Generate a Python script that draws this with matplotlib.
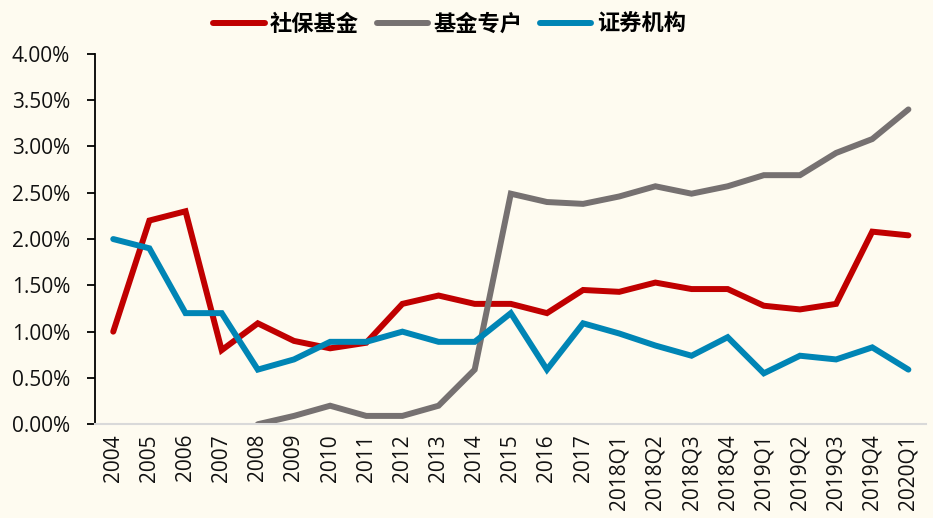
import numpy as np
import matplotlib
matplotlib.use("Agg")
import matplotlib.pyplot as plt
from matplotlib.ticker import FuncFormatter

plt.rcParams['font.family'] = ['Open Sans', 'Noto Sans CJK SC', 'DejaVu Sans']

# 数据（单位：%）
periods = ['2004', '2005', '2006', '2007', '2008', '2009', '2010', '2011',
           '2012', '2013', '2014', '2015', '2016', '2017',
           '2018Q1', '2018Q2', '2018Q3', '2018Q4',
           '2019Q1', '2019Q2', '2019Q3', '2019Q4', '2020Q1']

shebao = [1.00, 2.20, 2.30, 0.80, 1.09, 0.90, 0.82, 0.88, 1.30, 1.39, 1.30,
          1.30, 1.20, 1.45, 1.43, 1.53, 1.46, 1.46, 1.28, 1.24, 1.30, 2.08, 2.04]
jijin_zhuanhu = [np.nan, np.nan, np.nan, np.nan, 0.00, 0.09, 0.20, 0.09, 0.09,
                 0.20, 0.59, 2.49, 2.40, 2.38, 2.46, 2.57, 2.49, 2.57, 2.69,
                 2.69, 2.93, 3.08, 3.40]
zhengquan = [2.00, 1.90, 1.20, 1.20, 0.59, 0.70, 0.89, 0.89, 1.00, 0.89, 0.89,
             1.20, 0.59, 1.09, 0.98, 0.85, 0.74, 0.94, 0.55, 0.74, 0.70, 0.83, 0.59]

series_names = ['社保基金', '基金专户', '证券机构']
colors = ['#C00000', '#767171', '#0085B5']

bg = '#FEFBF0'
fig = plt.figure(figsize=(9.33, 5.18), dpi=100, facecolor=bg)
ax = fig.add_axes([0.102, 0.181, 0.891, 0.715], facecolor=bg)

x = np.arange(len(periods))
for vals, name, c in zip([shebao, jijin_zhuanhu, zhengquan], series_names, colors):
    ax.plot(x, vals, color=c, lw=4.3, label=name,
            solid_capstyle='round', solid_joinstyle='miter')

ax.set_xlim(-0.5, len(periods) - 0.5)
ax.set_ylim(0, 4.0)
ax.set_yticks(np.arange(0, 4.01, 0.5))
ax.yaxis.set_major_formatter(FuncFormatter(lambda v, p: f'{v:.2f}%'))
ax.set_xticks(x)
ax.set_xticklabels(periods, rotation=90)

for s in ['top', 'right']:
    ax.spines[s].set_visible(False)
ax.spines['bottom'].set_color('#D9D9D9')
ax.spines['bottom'].set_linewidth(1.5)
ax.spines['left'].set_color('black')
ax.spines['left'].set_linewidth(1.3)
ax.tick_params(axis='y', direction='out', length=6, width=1.3, labelsize=15, pad=12,
               labelcolor='#111111')
ax.tick_params(axis='x', length=0, labelsize=15, pad=7, labelcolor='#111111')

# 图例放在顶部居中
leg = fig.legend(loc='upper center', bbox_to_anchor=(0.482, 1.013), ncol=3,
                 frameon=False, handlelength=2.3, columnspacing=0.8,
                 handletextpad=0.25,
                 prop={'family': ['Noto Sans CJK SC'], 'weight': 'bold', 'size': 16})

fig.savefig('out.png', dpi=100, facecolor=bg)
